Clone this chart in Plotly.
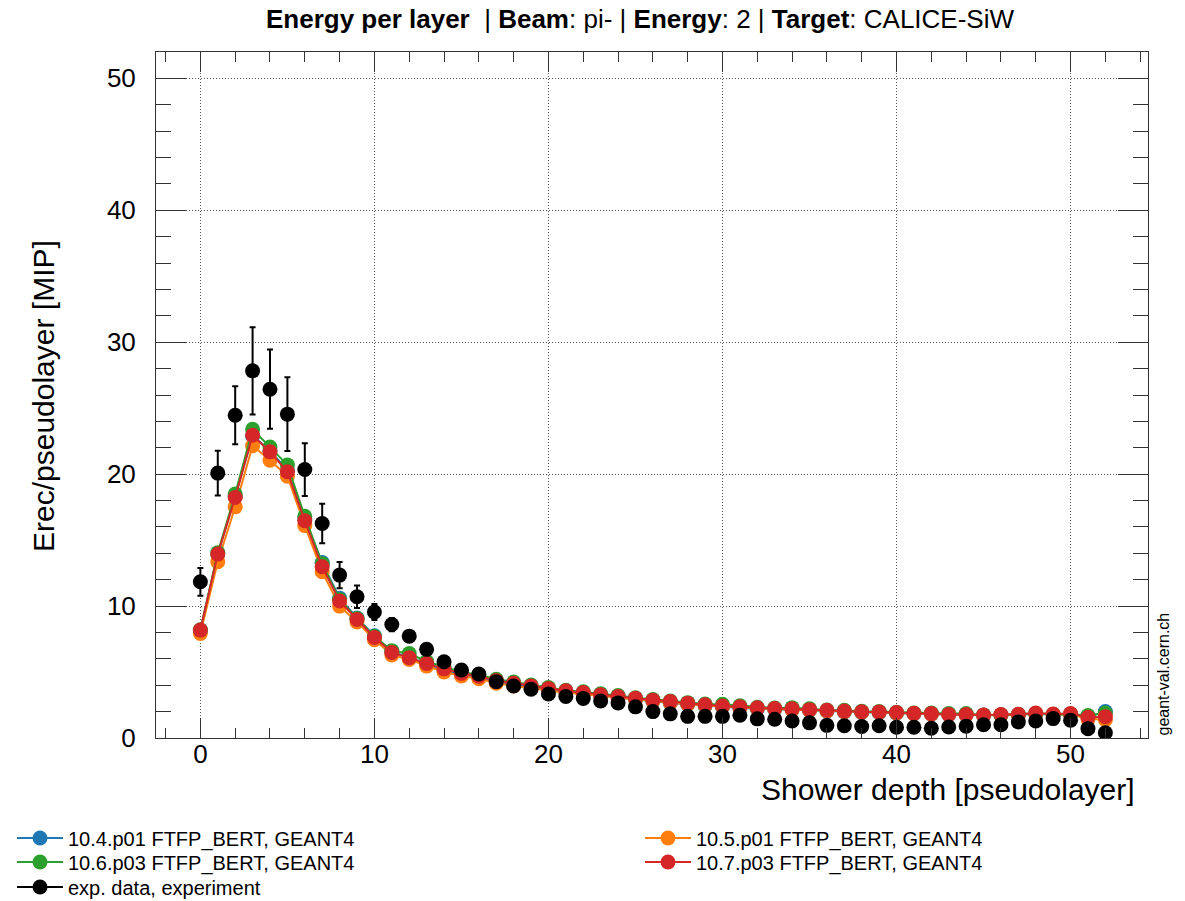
import plotly.graph_objects as go

layers = list(range(53))

g4_104_ftfp = [8.15, 13.95, 18.3, 22.9, 21.8, 20.3, 16.6, 13.3, 10.6, 9.1, 7.75, 6.55, 6.1, 5.6, 5.15,
               4.8, 4.6, 4.25, 4.05, 3.85, 3.65, 3.5, 3.35, 3.2, 3.05, 2.92, 2.78, 2.65, 2.55, 2.45,
               2.35, 2.28, 2.22, 2.17, 2.14, 2.08, 2.03, 1.98, 1.94, 1.92, 1.88, 1.84, 1.80, 1.76,
               1.74, 1.72, 1.74, 1.76, 1.82, 1.78, 1.80, 1.60, 2.0]
g4_105_ftfp = [7.93, 13.36, 17.52, 22.15, 21.06, 19.85, 16.1, 12.6, 10.0, 8.8, 7.45, 6.3, 5.95, 5.45, 5.0,
               4.7, 4.5, 4.15, 3.95, 3.78, 3.6, 3.45, 3.32, 3.18, 3.05, 2.92, 2.8, 2.68, 2.56, 2.46,
               2.38, 2.3, 2.25, 2.2, 2.15, 2.1, 2.05, 2.0, 1.95, 1.93, 1.9, 1.85, 1.82, 1.78,
               1.76, 1.72, 1.74, 1.76, 1.85, 1.78, 1.8, 1.45, 1.38]
g4_106_ftfp = [8.2, 14.05, 18.5, 23.4, 22.05, 20.7, 16.8, 13.2, 10.5, 9.05, 7.7, 6.62, 6.4, 5.8, 5.4,
               5.0, 4.8, 4.45, 4.25, 4.02, 3.82, 3.62, 3.5, 3.35, 3.22, 3.05, 2.92, 2.8, 2.68, 2.57,
               2.55, 2.45, 2.33, 2.27, 2.3, 2.22, 2.12, 2.1, 2.02, 2.0, 1.95, 1.9, 1.9, 1.85,
               1.85, 1.75, 1.76, 1.78, 1.85, 1.8, 1.82, 1.7, 1.9]
g4_107_ftfp = [8.18, 13.94, 18.23, 22.95, 21.69, 20.18, 16.47, 12.98, 10.38, 8.99, 7.62, 6.49, 6.08, 5.65, 5.24,
               4.9, 4.68, 4.35, 4.15, 3.95, 3.75, 3.58, 3.44, 3.28, 3.15, 3.02, 2.87, 2.76, 2.64, 2.52,
               2.42, 2.36, 2.29, 2.24, 2.22, 2.15, 2.10, 2.04, 1.99, 1.98, 1.93, 1.87, 1.85, 1.79,
               1.78, 1.74, 1.78, 1.80, 1.90, 1.82, 1.85, 1.57, 1.62]
exp_data = [11.84, 20.08, 24.47, 27.83, 26.44, 24.55, 20.35, 16.26, 12.35, 10.71, 9.55, 8.6, 7.72, 6.72, 5.78,
            5.15, 4.85, 4.27, 3.94, 3.69, 3.33, 3.15, 2.99, 2.8, 2.66, 2.36, 2.0, 1.83, 1.64, 1.64,
            1.64, 1.72, 1.45, 1.42, 1.29, 1.15, 0.96, 0.93, 0.87, 0.93, 0.81, 0.81, 0.74, 0.83,
            0.9, 1.0, 1.0, 1.22, 1.29, 1.47, 1.34, 0.71, 0.4]
exp_err = [1.05, 1.7, 2.2, 3.3, 3.0, 2.8, 2.0, 1.5, 1.0, 0.85, 0.6, 0.5, 0.4, 0.3, 0.25,
           0.2, 0.18, 0.16, 0.15, 0.14, 0.13, 0.12, 0.11, 0.1, 0.1, 0.1, 0.09, 0.09, 0.08, 0.08,
           0.08, 0.08, 0.07, 0.07, 0.07, 0.07, 0.06, 0.06, 0.06, 0.06, 0.06, 0.06, 0.06, 0.06,
           0.06, 0.06, 0.06, 0.06, 0.06, 0.06, 0.06, 0.05, 0.05]

series = [
    ("10.4.p01 FTFP_BERT, GEANT4", g4_104_ftfp, "#1f77b4", "legend"),
    ("10.5.p01 FTFP_BERT, GEANT4", g4_105_ftfp, "#ff7f0e", "legend2"),
    ("10.6.p03 FTFP_BERT, GEANT4", g4_106_ftfp, "#2ca02c", "legend3"),
    ("10.7.p03 FTFP_BERT, GEANT4", g4_107_ftfp, "#d62728", "legend4"),
]

FONT = "Liberation Sans, Arial, Helvetica, sans-serif"

fig = go.Figure()
for name, vals, col, lg in series:
    fig.add_trace(go.Scatter(
        x=layers, y=vals, name=name, mode="lines+markers",
        line=dict(color=col, width=2),
        marker=dict(color=col, size=15, symbol="circle"),
        legend=lg,
    ))
fig.add_trace(go.Scatter(
    x=layers, y=exp_data, name="exp. data, experiment", mode="markers",
    marker=dict(color="black", size=15, symbol="circle"),
    error_y=dict(type="data", array=exp_err, visible=True, color="black", thickness=2, width=3),
    showlegend=False,
))
# legend entry for the experimental data (line + marker symbol as in the reference)
fig.add_trace(go.Scatter(
    x=[None], y=[None], name="exp. data, experiment", mode="lines+markers",
    line=dict(color="black", width=2),
    marker=dict(color="black", size=15, symbol="circle"),
    legend="legend5",
))

W, H = 1185, 901
L, R, T, B = 156, 37, 52, 163

def leg(px, py):
    return dict(x=px / W, y=1 - py / H, xref="container", yref="container",
                xanchor="left", yanchor="middle", bgcolor="rgba(0,0,0,0)",
                font=dict(family=FONT, size=20, color="black"), itemwidth=46)

axis_common = dict(
    showline=True, linecolor="#333", linewidth=1, mirror="allticks",
    ticks="inside", tickcolor="#333", tickwidth=1,
    showgrid=True, gridcolor="#555", griddash="1px,2px", gridwidth=1,
    zeroline=False,
    tickfont=dict(family=FONT, size=26, color="black"),
)

fig.update_layout(
    width=W, height=H,
    margin=dict(l=L, r=R, t=T, b=B, autoexpand=False),
    paper_bgcolor="white", plot_bgcolor="white",
    font=dict(family=FONT, color="black"),
    title=dict(
        text="<b>Energy per layer</b>&nbsp; | <b>Beam</b>: pi- | <b>Energy</b>: 2 | <b>Target</b>: CALICE-SiW",
        x=640 / W, y=1 - 19 / H, xref="container", yref="container",
        xanchor="center", yanchor="middle",
        font=dict(family=FONT, size=26, color="black"),
    ),
    xaxis=dict(range=[-2.55, 54.45], tick0=0, dtick=10, ticklen=20,
               minor=dict(dtick=2, tick0=0, ticklen=10, ticks="inside", tickcolor="#333", showgrid=False),
               ticklabelstandoff=-7,
               **axis_common),
    yaxis=dict(range=[0, 52], tick0=0, dtick=10, ticklen=30,
               minor=dict(dtick=2, tick0=0, ticklen=15, ticks="inside", tickcolor="#333", showgrid=False),
               ticklabelstandoff=14,
               **axis_common),
    legend=leg(12, 838),
    legend2=leg(640, 838),
    legend3=leg(12, 862),
    legend4=leg(640, 862),
    legend5=leg(12, 887),
    showlegend=True,
)

fig.add_annotation(text="Shower depth [pseudolayer]", xref="paper", yref="paper",
                   x=(1137 - L) / (W - L - R), y=(738 - 790) / (H - T - B),
                   xanchor="right", yanchor="middle", showarrow=False,
                   font=dict(family=FONT, size=30, color="black"))
fig.add_annotation(text="Erec/pseudolayer [MIP]", xref="paper", yref="paper",
                   x=(43 - L) / (W - L - R), y=(738 - 238) / (H - T - B),
                   xanchor="center", yanchor="top", textangle=-90, showarrow=False,
                   font=dict(family=FONT, size=30, color="black"))
fig.add_annotation(text="geant-val.cern.ch", xref="paper", yref="paper",
                   x=(1163 - L) / (W - L - R), y=0,
                   xanchor="center", yanchor="bottom", textangle=-90, showarrow=False,
                   font=dict(family=FONT, size=16, color="black"))

fig.write_html("out.html")
